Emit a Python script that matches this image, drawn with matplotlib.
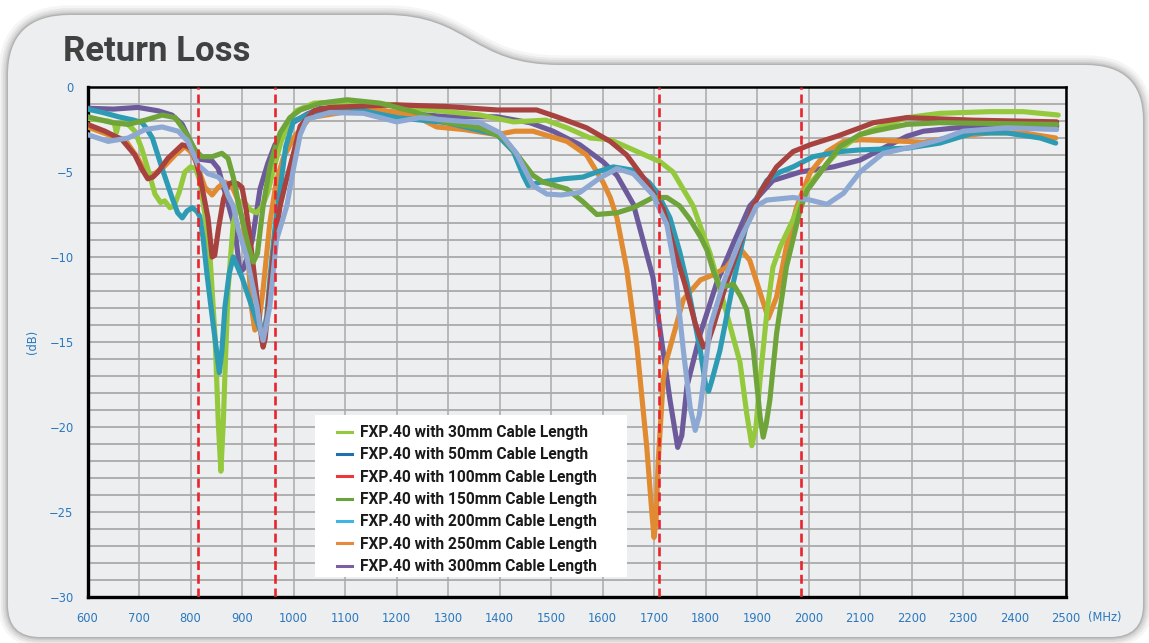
import matplotlib.pyplot as plt
from matplotlib.path import Path
from matplotlib.patches import PathPatch, Rectangle
from matplotlib.lines import Line2D

# ---------------- data ----------------
freq_30 = [600, 640, 652, 656, 660, 672, 692, 705, 717, 731, 742, 750, 760, 768, 778, 789, 800, 810,
           818, 828, 838, 848, 854, 859, 864, 867, 873, 883, 893, 903, 915, 928, 940, 950, 960, 975,
           990, 1005, 1040, 1100, 1200, 1246, 1300, 1362, 1427, 1490, 1531, 1576, 1615, 1660, 1712,
           1737, 1776, 1809, 1841, 1867, 1880, 1890, 1898, 1906, 1919, 1931, 1945, 1970, 1997, 2036,
           2061, 2100, 2126, 2191, 2255, 2352, 2417, 2485]
rl_30 = [-1.85, -2.0, -2.1, -2.7, -2.2, -2.0, -2.6, -3.6, -4.8, -6.3, -6.8, -6.7, -7.1, -7.0, -6.2, -5.0,
         -4.7, -4.8, -5.5, -7.5, -10.0, -14.9, -19.8, -22.6, -19.5, -16.8, -11.9, -8.0, -6.8, -6.7, -7.2,
         -7.4, -7.0, -6.2, -5.0, -3.3, -2.1, -1.4, -0.95, -0.9, -1.05, -1.3, -1.45, -1.65, -2.05, -1.95,
         -2.4, -3.0, -3.1, -3.7, -4.4, -5.0, -7.0, -9.8, -13.3, -16.2, -19.2, -21.1, -20.0, -17.2, -13.3,
         -10.6, -9.4, -7.8, -5.9, -4.5, -3.7, -2.8, -2.5, -1.8, -1.55, -1.45, -1.45, -1.65]

freq_50 = [600, 630, 660, 690, 706, 716, 726, 745, 764, 775, 784, 793, 803, 812, 818, 825, 832, 840,
           848, 856, 861, 867, 875, 883, 900, 920, 935, 941, 948, 955, 965, 974, 985, 1000, 1038, 1104,
           1200, 1298, 1395, 1427, 1446, 1456, 1479, 1524, 1562, 1589, 1621, 1660, 1690, 1706, 1731,
           1750, 1764, 1790, 1800, 1806, 1812, 1828, 1854, 1880, 1900, 1919, 1945, 1970, 2009, 2061,
           2100, 2191, 2255, 2320, 2385, 2450, 2480]
rl_50 = [-1.3, -1.5, -1.75, -1.95, -2.1, -2.5, -3.0, -4.8, -6.5, -7.4, -7.7, -7.3, -7.1, -7.3, -7.6,
         -9.0, -11.0, -13.0, -14.9, -16.8, -15.5, -12.9, -11.0, -10.0, -11.2, -13.0, -14.3, -14.5, -13.5,
         -11.0, -8.0, -6.0, -3.5, -2.0, -1.5, -1.2, -1.8, -2.1, -2.8, -3.8, -5.2, -5.8, -5.6, -5.4, -5.3,
         -5.0, -4.7, -4.9, -5.6, -6.2, -7.7, -9.7, -11.5, -15.5, -17.5, -17.9, -17.3, -15.5, -11.5, -8.0,
         -6.5, -5.5, -5.0, -4.7, -4.1, -3.8, -3.7, -3.6, -3.3, -2.7, -2.7, -3.0, -3.3]

freq_100 = [600, 634, 667, 692, 705, 717, 727, 737, 756, 770, 784, 795, 803, 812, 818, 834, 842, 847,
            855, 864, 874, 883, 892, 900, 908, 916, 931, 938, 941, 945, 954, 964, 974, 985, 993, 1000,
            1013, 1040, 1071, 1200, 1298, 1395, 1472, 1511, 1569, 1615, 1647, 1686, 1718, 1740, 1760,
            1780, 1796, 1804, 1815, 1841, 1867, 1893, 1906, 1938, 1970, 2003, 2055, 2100, 2126, 2191,
            2320, 2482]
rl_100 = [-2.2, -2.6, -3.1, -4.0, -4.8, -5.4, -5.3, -5.0, -4.2, -3.8, -3.4, -3.5, -3.7, -4.5, -5.2,
          -7.7, -10.0, -9.9, -8.2, -6.6, -5.7, -5.6, -5.7, -5.9, -7.2, -9.0, -12.9, -14.8, -15.3, -14.8,
          -11.9, -9.0, -7.0, -5.6, -4.7, -3.9, -2.3, -1.4, -1.2, -1.05, -1.15, -1.35, -1.35, -1.75, -2.4,
          -3.2, -4.0, -5.6, -7.2, -9.6, -11.6, -13.9, -15.3, -15.1, -14.1, -11.5, -9.2, -7.0, -6.2, -4.7,
          -3.8, -3.4, -2.9, -2.4, -2.1, -1.8, -1.95, -2.05]

freq_150 = [600, 648, 679, 712, 745, 770, 789, 809, 822, 842, 861, 873, 883, 893, 912, 922, 930, 941,
            954, 964, 974, 993, 1013, 1052, 1104, 1168, 1233, 1298, 1362, 1407, 1440, 1465, 1485, 1531,
            1562, 1589, 1628, 1660, 1698, 1725, 1750, 1770, 1790, 1803, 1815, 1828, 1841, 1854, 1868,
            1880, 1893, 1906, 1912, 1918, 1925, 1938, 1957, 1984, 1997, 2036, 2061, 2100, 2126, 2191,
            2255, 2482]
rl_150 = [-1.75, -2.1, -2.2, -1.95, -1.65, -1.8, -2.6, -3.7, -4.1, -4.1, -3.9, -4.2, -5.3, -6.8, -9.3,
          -10.3, -9.8, -7.0, -4.7, -3.6, -2.7, -1.8, -1.35, -0.95, -0.75, -0.95, -1.45, -2.1, -2.4, -3.0,
          -4.2, -5.2, -5.6, -6.0, -6.75, -7.5, -7.4, -7.1, -6.5, -6.5, -7.0, -7.8, -8.8, -9.6, -10.8,
          -11.8, -11.7, -11.6, -12.3, -13.1, -15.5, -19.4, -20.6, -19.8, -18.4, -14.5, -10.6, -7.2, -6.1,
          -4.5, -3.5, -2.8, -2.6, -2.2, -2.1, -2.2]

freq_200 = [600, 640, 679, 712, 745, 776, 795, 815, 834, 854, 864, 873, 883, 893, 909, 929, 936, 941,
            946, 954, 967, 987, 1000, 1013, 1026, 1071, 1136, 1200, 1246, 1298, 1362, 1401, 1433, 1465,
            1492, 1520, 1556, 1595, 1628, 1660, 1698, 1725, 1740, 1757, 1770, 1780, 1788, 1796, 1809,
            1835, 1867, 1899, 1919, 1970, 2003, 2036, 2068, 2100, 2145, 2204, 2255, 2300, 2385, 2482]
rl_200 = [-2.8, -3.2, -3.0, -2.5, -2.35, -2.6, -3.2, -4.6, -5.1, -5.3, -5.6, -6.4, -7.0, -8.4, -10.0,
          -12.9, -14.3, -14.9, -14.2, -12.9, -9.0, -7.0, -4.8, -2.8, -1.9, -1.5, -1.55, -2.05, -1.8, -1.95,
          -2.1, -2.7, -3.9, -5.8, -6.3, -6.35, -6.2, -5.35, -4.8, -5.1, -6.35, -8.1, -10.6, -15.5, -18.8,
          -20.2, -19.3, -17.4, -14.1, -11.5, -9.0, -7.0, -6.65, -6.5, -6.65, -6.9, -6.25, -5.0, -3.9, -3.5,
          -3.1, -2.6, -2.4, -2.5]

freq_250 = [600, 640, 673, 698, 717, 730, 745, 770, 789, 800, 809, 828, 842, 854, 867, 880, 890, 900,
            912, 918, 925, 932, 941, 954, 967, 980, 1000, 1032, 1104, 1168, 1233, 1278, 1330, 1395, 1430,
            1465, 1531, 1569, 1601, 1615, 1628, 1647, 1667, 1686, 1696, 1700, 1704, 1708, 1718, 1725,
            1757, 1790, 1815, 1841, 1867, 1886, 1906, 1922, 1938, 1957, 1977, 2003, 2036, 2068, 2100,
            2191, 2223, 2288, 2352, 2417, 2480]
rl_250 = [-2.35, -2.8, -3.1, -4.2, -5.3, -5.1, -4.8, -4.0, -3.5, -3.8, -4.3, -5.9, -6.35, -5.9, -5.6,
          -5.8, -6.5, -7.7, -10.0, -12.9, -14.3, -14.0, -11.9, -8.0, -5.5, -4.2, -3.0, -1.8, -1.45, -1.35,
          -1.65, -2.35, -2.5, -2.8, -2.6, -2.6, -3.2, -4.0, -5.6, -6.5, -7.7, -10.7, -15.3, -21.2, -25.1,
          -26.5, -25.5, -22.1, -17.2, -16.0, -12.5, -11.35, -11.05, -10.6, -9.5, -10.2, -12.1, -13.6,
          -12.35, -9.4, -7.05, -5.05, -3.8, -3.2, -3.1, -3.2, -3.25, -2.9, -2.7, -2.7, -3.0]

freq_300 = [600, 650, 698, 737, 764, 784, 803, 818, 842, 854, 867, 886, 896, 903, 920, 935, 950, 964,
            993, 1026, 1052, 1104, 1200, 1298, 1395, 1459, 1504, 1556, 1601, 1628, 1660, 1698, 1711,
            1731, 1746, 1754, 1764, 1790, 1822, 1854, 1886, 1931, 1984, 2048, 2100, 2145, 2191, 2223,
            2288, 2352, 2482]
rl_300 = [-1.25, -1.3, -1.2, -1.4, -1.65, -2.2, -3.4, -4.25, -4.35, -4.8, -6.2, -8.3, -10.9, -10.7,
          -9.0, -6.0, -4.5, -3.4, -2.2, -1.6, -1.25, -1.25, -1.5, -1.75, -1.75, -2.1, -2.6, -3.4, -4.4,
          -5.2, -6.9, -11.2, -14.1, -18.4, -21.2, -20.5, -17.6, -14.5, -11.5, -9.2, -7.0, -5.5, -5.0,
          -4.7, -4.3, -3.6, -2.9, -2.6, -2.4, -2.3, -2.3]

labels = ["FXP.40 with 30mm Cable Length", "FXP.40 with 50mm Cable Length",
          "FXP.40 with 100mm Cable Length", "FXP.40 with 150mm Cable Length",
          "FXP.40 with 200mm Cable Length", "FXP.40 with 250mm Cable Length",
          "FXP.40 with 300mm Cable Length"]
band_edges = [815, 965, 1710, 1985]
x_ticks = list(range(600, 2501, 100))
y_ticks = [0, -5, -10, -15, -20, -25, -30]

series = [(freq_30, rl_30), (freq_50, rl_50), (freq_100, rl_100), (freq_150, rl_150),
          (freq_200, rl_200), (freq_250, rl_250), (freq_300, rl_300)]
line_colors = ["#94c83d", "#2d9bb4", "#a7423f", "#6ea43a", "#8da9d3", "#e08a31", "#6d5a9b"]
legend_colors = ["#94c93f", "#1f6fb5", "#e8393d", "#6aa33c", "#3fb4e6", "#e58a3c", "#7b5ea3"]
draw_order = [6, 5, 0, 1, 2, 3, 4]

BLUE = "#2a78be"
PANEL = "#edeef0"
W, H = 1149, 643

fig = plt.figure(figsize=(W / 100, H / 100), dpi=100, facecolor="white")

# -------- rounded tab-shaped panel with soft shadow --------
bg = fig.add_axes([0, 0, 1, 1], zorder=0)
bg.set_xlim(0, W)
bg.set_ylim(H, 0)
bg.axis("off")
verts = [(8, 600), (8, 75), (8, 15), (70, 15), (385, 15),
         (470, 15), (470, 65), (560, 65), (1085, 65),
         (1143, 65), (1143, 120), (1143, 605), (1143, 637), (1110, 637),
         (40, 637), (8, 637), (8, 605), (8, 600)]
codes = [Path.MOVETO, Path.LINETO, Path.CURVE3, Path.CURVE3, Path.LINETO,
         Path.CURVE4, Path.CURVE4, Path.CURVE4, Path.LINETO,
         Path.CURVE3, Path.CURVE3, Path.LINETO, Path.CURVE3, Path.CURVE3,
         Path.LINETO, Path.CURVE3, Path.CURVE3, Path.CLOSEPOLY]
panel = Path(verts, codes)
for lw, a in [(14, 0.04), (10, 0.05), (7, 0.06), (4, 0.08), (2, 0.10)]:
    bg.add_patch(PathPatch(panel, facecolor="none", edgecolor="black", lw=lw, alpha=a))
bg.add_patch(PathPatch(panel, facecolor=PANEL, edgecolor="none"))

fig.text(63 / W, 1 - 61 / H, "Return Loss", fontsize=25, fontweight="bold",
         color="#414141", family="Roboto", va="baseline", ha="left")

# ---------------- main chart ----------------
ax = fig.add_axes([87.5 / W, 1 - 597 / H, 978.5 / W, 510 / H], zorder=2)
ax.set_facecolor(PANEL)

for i in draw_order:
    f, v = series[i]
    ax.plot(f, v, color=line_colors[i], lw=3.7, solid_joinstyle="round",
            solid_capstyle="round", zorder=3 + draw_order.index(i) * 0.1)

for b in band_edges:
    ax.axvline(b, color="#e8242c", lw=1.9, dashes=(3.4, 1.8), zorder=5)

ax.set_xlim(600, 2500)
ax.set_ylim(-30, 0)
ax.set_xticks(x_ticks)
ax.set_yticks(y_ticks)
ax.set_yticks(range(-30, 1), minor=True)
ax.tick_params(axis="both", which="both", length=0, labelsize=8.3, labelcolor=BLUE)
ax.tick_params(axis="x", pad=11)
ax.tick_params(axis="y", pad=10)
ax.grid(True, axis="y", which="both", color="#aaaaaa", lw=1.3, zorder=1)
ax.grid(True, axis="x", which="major", color="#aaaaaa", lw=1.1, zorder=1)
ax.set_axisbelow(True)
for side, w in [("left", 2.4), ("bottom", 2.4), ("top", 1.8), ("right", 1.8)]:
    ax.spines[side].set_linewidth(w)
    ax.spines[side].set_color("black")

fig.text(33 / W, 1 - 342 / H, "(dB)", rotation=90, color=BLUE, fontsize=8.3,
         ha="center", va="center")
fig.text(1105 / W, 1 - 617 / H, "(MHz)", color=BLUE, fontsize=8.3,
         ha="center", va="center")

# legend: white box plus frameless legend on top
ax.add_patch(Rectangle((0.2325, 0.0392), 0.3189, 0.3176, transform=ax.transAxes,
                       facecolor="white", edgecolor="none", zorder=9))
handles = [Line2D([0], [0], color=c, lw=2.2) for c in legend_colors]
leg = ax.legend(handles, labels, loc="upper left", bbox_to_anchor=(0.255, 0.337),
                frameon=False, handlelength=0.95, handletextpad=0.5, labelspacing=0.47,
                borderpad=0, borderaxespad=0,
                prop={"family": "Roboto", "weight": "bold", "size": 11.2})
leg.set_zorder(10)
for t in leg.get_texts():
    t.set_color("#1a1a1a")

fig.savefig("out.png", dpi=100, facecolor="white")
